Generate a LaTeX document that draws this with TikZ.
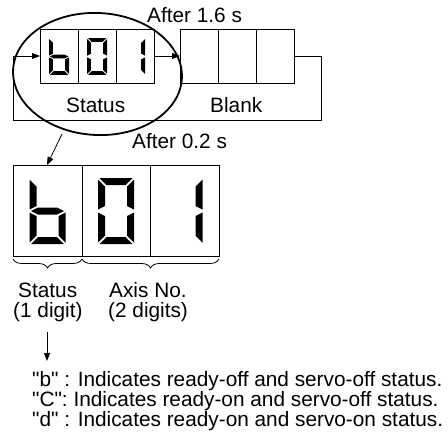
\documentclass[tikz,border=0pt]{standalone}
\usepackage{fontspec}
\setmainfont{Liberation Sans}
\usetikzlibrary{arrows.meta,shapes.geometric,decorations.pathreplacing}

\newcommand\zW{36}
\newcommand\zH{66}
\newcommand\zM{33}
\newcommand\zT{7}
\newcommand\zG{1.5}
\newcommand\zSegA{\fill (\zG,0) -- (\zW-\zG,0) -- (\zW-\zG-\zT,\zT) -- (\zG+\zT,\zT) -- cycle;}
\newcommand\zSegB{\fill (\zW,\zG) -- (\zW,\zM-\zG) -- (\zW-\zT,\zM-\zG-\zT/2) -- (\zW-\zT,\zG+\zT) -- cycle;}
\newcommand\zSegC{\fill (\zW,\zM+\zG) -- (\zW,\zH-\zG) -- (\zW-\zT,\zH-\zG-\zT) -- (\zW-\zT,\zM+\zG+\zT/2) -- cycle;}
\newcommand\zSegD{\fill (\zG,\zH) -- (\zW-\zG,\zH) -- (\zW-\zG-\zT,\zH-\zT) -- (\zG+\zT,\zH-\zT) -- cycle;}
\newcommand\zSegE{\fill (0,\zM+\zG) -- (0,\zH-\zG) -- (\zT,\zH-\zG-\zT) -- (\zT,\zM+\zG+\zT/2) -- cycle;}
\newcommand\zSegF{\fill (0,\zG) -- (0,\zM-\zG) -- (\zT,\zM-\zG-\zT/2) -- (\zT,\zG+\zT) -- cycle;}
\newcommand\zSegG{\fill (\zG,\zM) -- (\zG+\zT,\zM-\zT/2) -- (\zW-\zG-\zT,\zM-\zT/2) -- (\zW-\zG,\zM) -- (\zW-\zG-\zT,\zM+\zT/2) -- (\zG+\zT,\zM+\zT/2) -- cycle;}
\newcommand\zDigit[4]{\begin{scope}[shift={(#1,#2)},scale=#3]\foreach \s in {#4}{\csname zSeg\s\endcsname}\end{scope}}
\newcommand\qq{\textquotedbl}

\begin{document}
\begin{tikzpicture}[x=1pt,y=-1pt,
  cell/.style={draw,line width=0.9pt,inner sep=0pt,outer sep=0pt},
  lbl/.style={inner sep=0pt,font=\fontsize{20.8}{20.8}\selectfont},
  arr/.style={line width=0.8pt,-{Triangle[length=8pt,width=6pt]}},
  bracestyle/.style={line width=0.8pt,decorate,decoration={brace,amplitude=9pt}}]
\useasboundingbox (0,0) rectangle (448,439);
% top display
\foreach \n/\x in {t1/59,t2/97,t3/135,k1/199,k2/237,k3/275}
  \node[cell,minimum width=38pt,minimum height=54pt] (\n) at (\x,56) {};
\zDigit{49}{38}{0.56}{F,E,G,C,D}
\zDigit{87}{38}{0.56}{A,B,C,D,E,F}
\zDigit{125}{38}{0.56}{B,C}
% loop connectors
\coordinate (lr) at (321,120);
\coordinate (ll) at (13,120);
\draw[arr] (t3.east) -- (k1.west);
\draw[arr] (k3.east) -| (lr) -- (ll) |- (t1.west);
% labels top
\node[lbl,anchor=base west] (after16) at (147,22) {After 1.6 s};
\node[lbl,anchor=base west] (stat1) at (66,112) {Status};
\node[lbl,anchor=base west] (blank) at (210,112) {Blank};
\node[lbl,anchor=base west] (after02) at (132,148) {After 0.2 s};
% ellipse
\node[draw,ellipse,line width=1.8pt,minimum width=169pt,minimum height=122pt,inner sep=0pt,rotate=-3] (ell) at (97.5,74) {};
\coordinate (es) at (62,134);
\coordinate (et) at (47,165);
\draw[arr] (es) -- (et);
% bottom display
\node[cell,minimum width=69pt,minimum height=91pt] (b1) at (47.5,210.5) {};
\node[cell,minimum width=68pt,minimum height=91pt] (b2) at (116,210.5) {};
\node[cell,minimum width=69pt,minimum height=91pt] (b3) at (184.5,210.5) {};
\zDigit{29.5}{178}{1}{F,E,G,C,D}
\zDigit{98}{178}{1}{A,B,C,D,E,F}
\zDigit{166.5}{178}{1}{B,C}
% braces
\draw[bracestyle] ([yshift=-3pt]b1.south east) -- ([yshift=-3pt]b1.south west);
\draw[bracestyle] ([yshift=-3pt]b3.south east) -- ([yshift=-3pt]b2.south west);
\node[lbl,anchor=base west] (stat2) at (18,297) {Status};
\node[lbl,anchor=base west] (dig1) at (13,317) {(1 digit)};
\node[lbl,anchor=base west] (axis) at (109,297) {Axis No.};
\node[lbl,anchor=base west] (dig2) at (108,317) {(2 digits)};
% arrow and explanation
\coordinate (va) at (47,332);
\coordinate (vb) at (47,361);
\draw[arr] (va) -- (vb);
\node[lbl,anchor=base west] (lb) at (32,386) {\qq b\qq\ : Indicates ready-off and servo-off status.};
\node[lbl,anchor=base west] (lc) at (32,406) {\qq C\qq: Indicates ready-on and servo-off status.};
\node[lbl,anchor=base west] (ld) at (32,426) {\qq d\qq\ : Indicates ready-on and servo-on status.};
\end{tikzpicture}
\end{document}
